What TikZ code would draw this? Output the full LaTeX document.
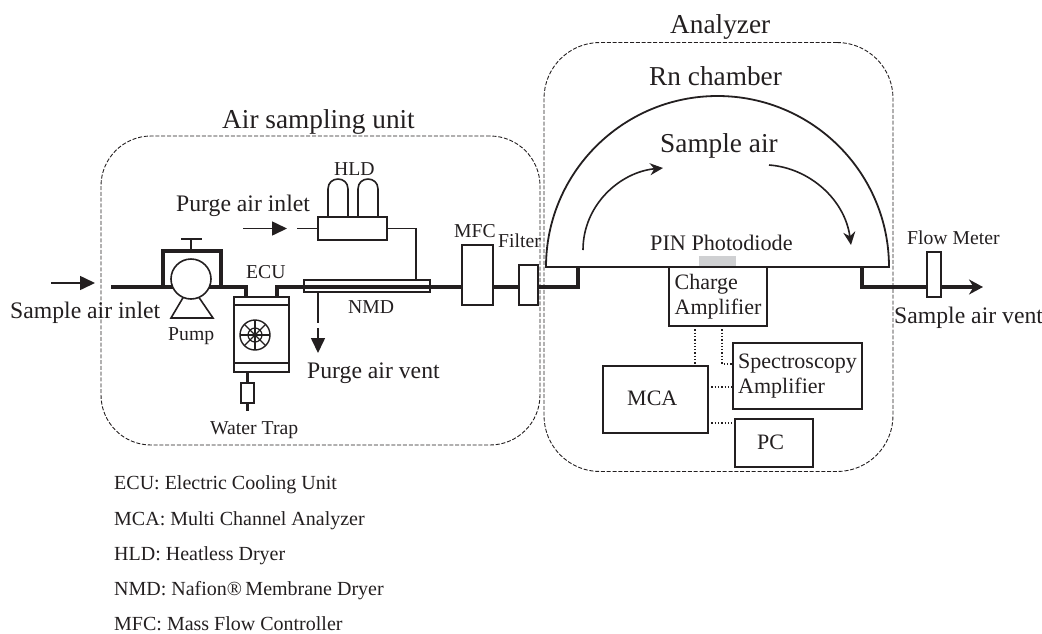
\documentclass[tikz,border=0pt]{standalone}
\usepackage{fontspec}
\setmainfont{Liberation Serif}
\usepackage{xcolor}
\usepackage{tikz}
\usetikzlibrary{arrows.meta, positioning, calc}

\definecolor{inkdark}{HTML}{231F20}
\definecolor{diodegray}{HTML}{CFD0D2}

\begin{document}
\begin{tikzpicture}[x=1pt, y=-1pt, inkdark,
    unitbox/.style={draw, dash pattern=on 4pt off 1.8pt, line width=0.9pt, inner sep=0pt, outer sep=0pt},
    partbox/.style={draw, fill=white, line width=1.6pt, inner sep=0pt, outer sep=0pt, align=left, text=inkdark, font=\fontsize{22}{25}\selectfont},
    pipe/.style={line width=3.2pt},
    wire/.style={line width=1.6pt},
    signal/.style={line width=1.3pt, dotted},
    flowarrow/.style={line width=1.6pt, -{Triangle[length=15pt,width=14pt]}},
    bendarrow/.style={line width=1.6pt, -{Stealth[length=13pt,width=12pt]}},
    biglabel/.style={anchor=base west, inner sep=0pt, font=\fontsize{27.3}{30}\selectfont},
    midlabel/.style={anchor=base west, inner sep=0pt, font=\fontsize{23.7}{26}\selectfont},
    pinlabelstyle/.style={anchor=base west, inner sep=0pt, font=\fontsize{22.2}{25}\selectfont},
    boxlabel/.style={anchor=base west, inner sep=0pt, font=\fontsize{22}{25}\selectfont},
    smalllabel/.style={anchor=base west, inner sep=0pt, font=\fontsize{19.7}{22}\selectfont},
    keylabel/.style={anchor=base west, inner sep=0pt, font=\fontsize{20}{22}\selectfont}]
    \useasboundingbox (0,0) rectangle (1042,633);

    % Dashed units
    \node[unitbox, rounded corners=50pt, minimum width=439pt, minimum height=309pt] (airunit) at (320.5,290.5) {};
    \node[unitbox, rounded corners=56pt, minimum width=349pt, minimum height=429pt] (analyzer) at (718.5,257) {};

    % Chamber
    \coordinate (domeL) at (546,267);
    \coordinate (domeR) at (889,267);
    \coordinate (domeT) at (717.5,96);
    \draw[line width=1.8pt] (domeL) .. controls (546,172.6) and (622.8,96) .. (domeT)
        .. controls (812.2,96) and (889,172.6) .. (domeR) -- cycle;
    \fill[diodegray] (699,256) rectangle (736,268);
    \coordinate (flowA) at (583,250);
    \coordinate (flowB) at (663,168);
    \coordinate (flowC) at (769,165);
    \coordinate (flowD) at (851,245);
    \draw[bendarrow] (flowA) .. controls (583,205) and (620,172) .. (flowB);
    \draw[bendarrow] (flowC) .. controls (810,168) and (845,200) .. (flowD);

    % Main pipe
    \coordinate (pipeIn) at (111,287);
    \coordinate (pipeOut) at (983,287);
    \coordinate (ecuIn) at (246,287);
    \coordinate (ecuOut) at (277,287);
    \node[partbox, minimum width=31pt, minimum height=60pt] (mfc) at (477.5,275) {};
    \node[partbox, minimum width=19pt, minimum height=40pt] (filter) at (528.5,285) {};
    \draw[pipe] (pipeIn) -- (ecuIn) -- ++(0,10);
    \draw[pipe] (ecuOut) ++(0,10) -- (ecuOut) -- (462,287);
    \draw[pipe] (493,287) -- (519,287);
    \draw[pipe] (538,287) -- (578,287) -- (578,267);
    \draw[pipe] (862,267) -- (862,287) -- (920,287);
    \draw[line width=3.2pt, -{Stealth[length=14pt,width=15pt]}] (920,287) -- (pipeOut);

    % Pump
    \coordinate (handle) at (191,251);
    \draw[pipe] (163,287) -- (163,251) -- (221,251) -- (221,287);
    \draw[wire] (handle) -- ++(0,-12);
    \draw[wire] (181,239) -- (202,239);
    \draw[wire] (184,296) -- (171,318) -- (213,318) -- (198,296);
    \node[partbox, circle, minimum size=40pt] (pump) at (191,279) {};

    % ECU
    \node[partbox, minimum width=55pt, minimum height=75pt] (ecu) at (261.5,334.5) {};
    \draw[wire] ($(ecu.north west)+(0,8)$) -- ($(ecu.north east)+(0,8)$);
    \draw[wire] ($(ecu.south west)+(0,-9)$) -- ($(ecu.south east)+(0,-9)$);
    \coordinate (fan) at (255,335);
    \draw[line width=1.4pt] (fan) circle (15);
    \draw[line width=1.2pt] (fan) circle (7);
    \foreach \ang in {0,45,90,135}
        \draw[line width=1.2pt] (fan) ++(\ang:15) -- ++(\ang+180:30);

    % Water trap
    \node[partbox, minimum width=13pt, minimum height=20pt] (trap) at (247.5,393) {};
    \coordinate (trapEnd) at (247.5,411);
    \draw[pipe] (trap.north) -- (trap.north |- ecu.south);
    \draw[pipe] (trap.south) -- (trapEnd);

    % Membrane dryer and heatless dryer
    \node[draw, line width=1.3pt, inner sep=0pt, outer sep=0pt, minimum width=126pt, minimum height=12pt] (nmd) at (367,286) {};
    \node[partbox, minimum width=69pt, minimum height=23pt] (hld) at (352.5,228.5) {};
    \coordinate (ventTop) at (318,323);
    \coordinate (ventArrow) at (318,328);
    \coordinate (ventTip) at (318,353);
    \coordinate (purgeStub) at (297,228.5);
    \coordinate (purgeA) at (243,228.5);
    \coordinate (purgeB) at (287,228.5);
    \draw[wire] (purgeStub) -- (hld.west);
    \draw[wire] (hld.east) -- (416,228.5) -- (416,280);
    \draw[wire] (318,292) -- (ventTop);
    \draw[flowarrow] (ventArrow) -- (ventTip);
    \draw[flowarrow] (purgeA) -- (purgeB);
    \draw[wire] (328,217) -- (328,189) .. controls (328,175.7) and (348,175.7) .. (348,189) -- (348,217);
    \draw[wire] (358,217) -- (358,189) .. controls (358,175.7) and (378,175.7) .. (378,189) -- (378,217);

    % Inlet arrow
    \coordinate (inletA) at (51,283);
    \coordinate (inletB) at (95,283);
    \draw[flowarrow] (inletA) -- (inletB);

    % Flow meter
    \node[partbox, minimum width=14pt, minimum height=45pt] (meter) at (934,274.5) {};

    % Electronics
    \node[partbox, minimum width=98pt, minimum height=59pt] (charge) at (718,296.5) {Charge\\Amplifier};
    \node[partbox, minimum width=129pt, minimum height=66pt] (spectro) at (797.5,376) {Spectroscopy\\Amplifier};
    \node[partbox, minimum width=105pt, minimum height=67pt] (mca) at (655.5,399.5) {};
    \node[partbox, minimum width=78pt, minimum height=48pt] (pc) at (774,443) {};
    \node[boxlabel] (mcalabel) at (627,405) {MCA};
    \node[boxlabel] (pclabel) at (757,449) {PC};
    \draw[signal] (charge.south -| 695,0) -- (mca.north -| 695,0);
    \draw[signal] (charge.south -| 722,0) -- (722,364) -- (spectro.west |- 0,364);
    \draw[signal] (mca.east |- 0,387) -- (spectro.west |- 0,387);
    \draw[signal] (mca.east |- 0,423) -- (pc.west |- 0,423);

    % Labels
    \node[biglabel] (airlabel) at (222,128) {Air sampling unit};
    \node[biglabel] (analyzerlabel) at (670,33) {Analyzer};
    \node[biglabel] (rnlabel) at (649,85) {Rn chamber};
    \node[biglabel] (samplelabel) at (660,152) {Sample air};
    \node[midlabel] (inletlabel) at (10,318) {Sample air inlet};
    \node[midlabel] (purgelabel) at (176,211) {Purge air inlet};
    \node[midlabel] (ventlabel) at (307,378) {Purge air vent};
    \node[midlabel] (outletlabel) at (894,323) {Sample air vent};
    \node[pinlabelstyle] (pinlabel) at (650,250) {PIN Photodiode};
    \node[smalllabel] (hldlabel) at (334,175) {HLD};
    \node[smalllabel] (eculabel) at (246,278) {ECU};
    \node[smalllabel] (pumplabel) at (168,340) {Pump};
    \node[smalllabel] (traplabel) at (210,434) {Water Trap};
    \node[smalllabel] (nmdlabel) at (348,313) {NMD};
    \node[smalllabel] (mfclabel) at (454,237) {MFC};
    \node[smalllabel] (filterlabel) at (498,247) {Filter};
    \node[smalllabel] (meterlabel) at (907,244) {Flow Meter};

    % Key
    \node[keylabel] (keyecu) at (114,489) {ECU: Electric Cooling Unit};
    \node[keylabel] (keymca) at (114,525) {MCA: Multi Channel Analyzer};
    \node[keylabel] (keyhld) at (114,560) {HLD: Heatless Dryer};
    \node[keylabel] (keynmd) at (114,595) {NMD: Nafion®\,Membrane Dryer};
    \node[keylabel] (keymfc) at (114,630) {MFC: Mass Flow Controller};
\end{tikzpicture}
\end{document}
